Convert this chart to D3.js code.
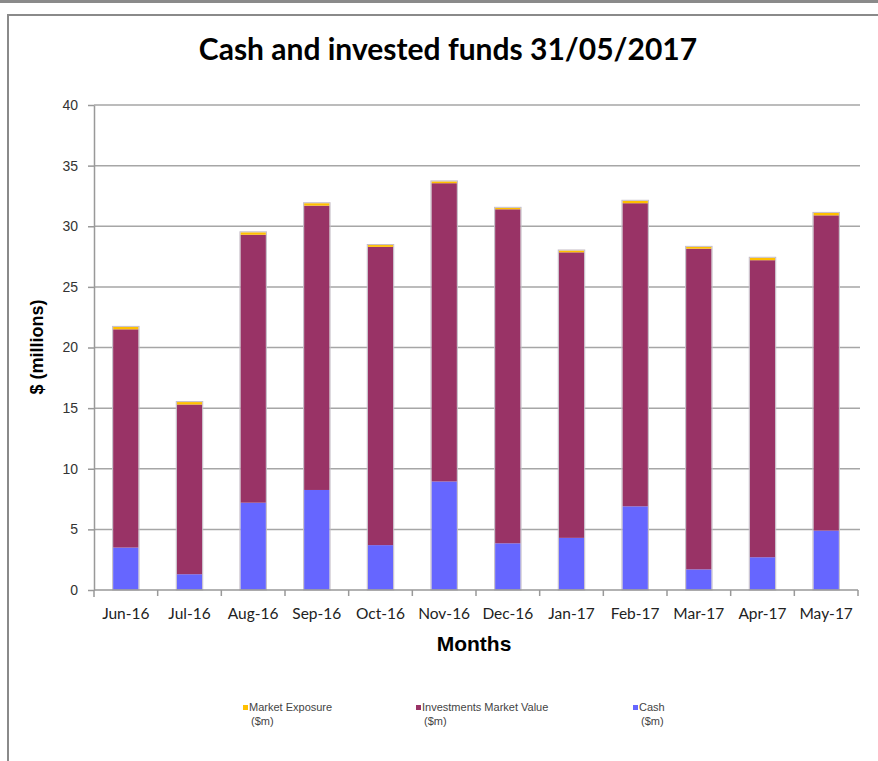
<!DOCTYPE html>
<html>
<head>
<meta charset="utf-8">
<script src="https://cdn.jsdelivr.net/npm/d3@7/dist/d3.min.js"></script>
<style>
  html, body { margin: 0; padding: 0; background: #fff; }
  svg { display: block; }
</style>
</head>
<body>
<svg id="chart" width="878" height="761"></svg>
<script>
// ---- data ----
const months = ["Jun-16","Jul-16","Aug-16","Sep-16","Oct-16","Nov-16","Dec-16","Jan-17","Feb-17","Mar-17","Apr-17","May-17"];
const cash = [3.5, 1.3, 7.2, 8.25, 3.7, 8.95, 3.85, 4.3, 6.9, 1.7, 2.7, 4.9];
const investments = [18.0, 14.0, 22.1, 23.45, 24.6, 24.6, 27.55, 23.55, 25.0, 26.45, 24.5, 26.0];
const exposure = [0.2, 0.2, 0.2, 0.2, 0.15, 0.15, 0.12, 0.15, 0.2, 0.15, 0.2, 0.2];
const yTicks = [0, 5, 10, 15, 20, 25, 30, 35, 40];
const seriesKeys = ["cash", "investments", "exposure"];
const seriesNames = {
  exposure: ["Market Exposure", "($m)"],
  investments: ["Investments Market Value", "($m)"],
  cash: ["Cash", "($m)"]
};
const colors = { cash: "#6666FF", investments: "#993366", exposure: "#FFC000" };

const rows = months.map((m, i) => ({ month: m, cash: cash[i], investments: investments[i], exposure: exposure[i] }));

const svg = d3.select("#chart");

// outer frame
svg.append("line").attr("x1", 0).attr("x2", 878).attr("y1", 1.5).attr("y2", 1.5)
  .attr("stroke", "#8a8a8a").attr("stroke-width", 3);
svg.append("rect").attr("x", 8).attr("y", 15).attr("width", 880).attr("height", 760)
  .attr("fill", "none").attr("stroke", "#8a8a8a").attr("stroke-width", 2);

const pLeft = 94, pRight = 858, pTop = 105, pBottom = 590;

const x = d3.scaleBand().domain(months).range([pLeft, pRight]).paddingInner(0.6).paddingOuter(0.3);
const y = d3.scaleLinear().domain([0, 40]).range([pBottom, pTop]);

// gridlines
svg.append("g").selectAll("line").data(yTicks.filter(t => t > 0)).join("line")
  .attr("x1", pLeft).attr("x2", pRight + 2)
  .attr("y1", d => y(d)).attr("y2", d => y(d))
  .attr("stroke", "#a6a6a6").attr("stroke-width", 1.5);

// y axis
const yAxis = svg.append("g").attr("transform", `translate(${pLeft},0)`)
  .call(d3.axisLeft(y).tickValues(yTicks).tickSize(6).tickPadding(10).tickSizeOuter(0));
yAxis.select(".domain").attr("stroke", "#999").attr("stroke-width", 1.5);
yAxis.selectAll(".tick line").attr("stroke", "#999").attr("stroke-width", 1.5);
yAxis.selectAll(".tick text").attr("fill", "#333")
  .style("font-family", "'Liberation Sans', Arial, sans-serif").style("font-size", "14px");
svg.append("line").attr("x1", pLeft).attr("x2", pLeft).attr("y1", pBottom).attr("y2", pBottom + 7)
  .attr("stroke", "#999").attr("stroke-width", 1.5);

// stacked bars
const stack = d3.stack().keys(seriesKeys)(rows);
svg.append("g").selectAll("g").data(stack).join("g")
  .attr("fill", d => colors[d.key])
  .selectAll("rect").data(d => d).join("rect")
  .attr("x", d => x(d.data.month))
  .attr("width", x.bandwidth())
  .attr("y", d => y(d[1]))
  .attr("height", d => y(d[0]) - y(d[1]));

// light outline around each full bar
svg.append("g").selectAll("rect").data(stack[stack.length - 1]).join("rect")
  .attr("x", d => x(d.data.month) - 0.5)
  .attr("width", x.bandwidth() + 1)
  .attr("y", d => y(d[1]) - 0.5)
  .attr("height", d => y(0) - y(d[1]) + 0.5)
  .attr("fill", "none").attr("stroke", "#c4bcc6").attr("stroke-width", 1);

// x axis
const xBoundary = d3.scaleLinear().domain([0, months.length]).range([pLeft, pRight]);
svg.append("line").attr("x1", pLeft).attr("x2", pRight).attr("y1", pBottom).attr("y2", pBottom)
  .attr("stroke", "#999").attr("stroke-width", 1.5);
svg.append("g").selectAll("line").data(d3.range(1, months.length + 1)).join("line")
  .attr("x1", d => xBoundary(d)).attr("x2", d => xBoundary(d))
  .attr("y1", pBottom).attr("y2", pBottom + 6)
  .attr("stroke", "#999").attr("stroke-width", 1.5);
svg.append("g").selectAll("text").data(months).join("text")
  .attr("x", d => x(d) + x.bandwidth() / 2)
  .attr("y", 619)
  .attr("text-anchor", "middle")
  .attr("fill", "#222")
  .style("font-family", "Lato, sans-serif").style("font-size", "15.5px")
  .text(d => d);

// titles
svg.append("text").attr("x", 448).attr("y", 60).attr("text-anchor", "middle")
  .style("font-family", "Lato, sans-serif").style("font-weight", "bold").style("font-size", "30px")
  .attr("fill", "#000").text("Cash and invested funds 31/05/2017");

svg.append("text").attr("transform", "translate(43,347) rotate(-90)").attr("text-anchor", "middle")
  .style("font-family", "'Liberation Sans', Arial, sans-serif").style("font-weight", "bold").style("font-size", "18px")
  .attr("fill", "#000").text("$ (millions)");

svg.append("text").attr("x", 474).attr("y", 651).attr("text-anchor", "middle")
  .style("font-family", "'Liberation Sans', Arial, sans-serif").style("font-weight", "bold").style("font-size", "21px")
  .attr("fill", "#000").text("Months");

// legend
const legendItems = [
  { key: "exposure", x: 243 },
  { key: "investments", x: 416 },
  { key: "cash", x: 633 }
];
const lg = svg.append("g").selectAll("g").data(legendItems).join("g")
  .attr("transform", d => `translate(${d.x},0)`);
lg.append("rect").attr("x", 0).attr("y", 705).attr("width", 5).attr("height", 5)
  .attr("fill", d => colors[d.key]);
lg.append("text").attr("x", 6).attr("y", 711)
  .style("font-family", "'Liberation Sans', Arial, sans-serif").style("font-size", "11px")
  .attr("fill", "#444").text(d => seriesNames[d.key][0]);
lg.append("text").attr("x", 8).attr("y", 725)
  .style("font-family", "'Liberation Sans', Arial, sans-serif").style("font-size", "11px")
  .attr("fill", "#444").text(d => seriesNames[d.key][1]);
</script>
</body>
</html>
